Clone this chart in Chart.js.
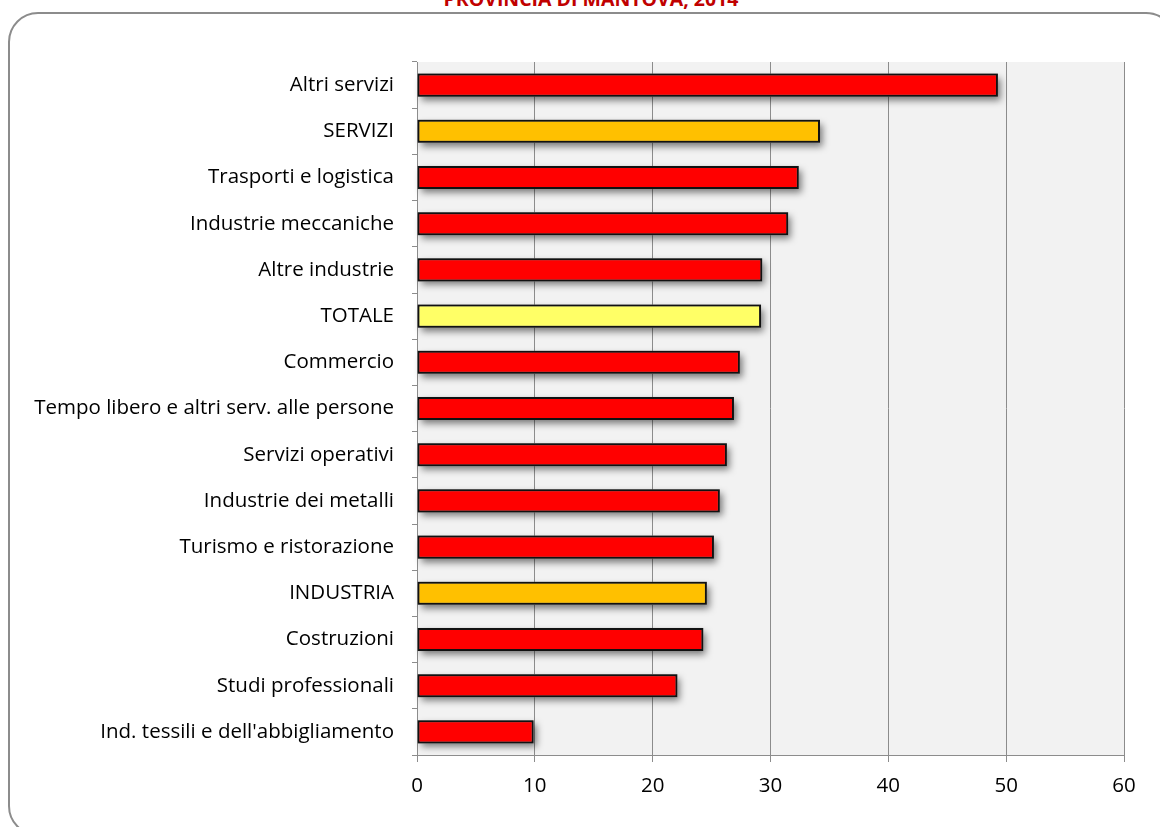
<!DOCTYPE html>
<html>
<head>
<meta charset="utf-8">
<script src="https://cdn.jsdelivr.net/npm/chart.js@4.4.1/dist/chart.umd.min.js"></script>
<style>
    html, body { margin: 0; padding: 0; background: #fff; overflow: hidden; }
    .wrap { position: relative; width: 1160px; height: 827px; overflow: hidden; }
    .frame { position: absolute; left: 8px; top: 12px; width: 1168px; height: 824px;
        border: 2px solid #8c8c8c; border-radius: 30px; box-sizing: border-box; }
    .title { position: absolute; left: 0; width: 1182px; top: -15px; text-align: center;
        line-height: 22px; font: bold 19.5px "Open Sans", "Liberation Sans", sans-serif; color: #c00000; }
    canvas { position: absolute; left: 0; top: 0; }
</style>
</head>
<body>
<div class="wrap">
    <div class="frame"></div>
    <div class="title">PROVINCIA DI MANTOVA, 2014</div>
    <canvas id="chart" width="1160" height="827"></canvas>
</div>
<script>
var categories = [
    'Altri servizi',
    'SERVIZI',
    'Trasporti e logistica',
    'Industrie meccaniche',
    'Altre industrie',
    'TOTALE',
    'Commercio',
    'Tempo libero e altri serv. alle persone',
    'Servizi operativi',
    'Industrie dei metalli',
    'Turismo e ristorazione',
    'INDUSTRIA',
    'Costruzioni',
    'Studi professionali',
    "Ind. tessili e dell'abbigliamento"
];
var values = [49.3, 34.2, 32.4, 31.5, 29.3, 29.2, 27.4, 26.9, 26.3, 25.7, 25.2, 24.6, 24.3, 22.1, 9.9];
var groups = ['sector', 'macro', 'sector', 'sector', 'sector', 'total', 'sector', 'sector',
    'sector', 'sector', 'sector', 'macro', 'sector', 'sector', 'sector'];
var xTicks = [0, 10, 20, 30, 40, 50, 60];

var groupColors = { sector: '#ff0000', macro: '#ffc000', total: '#ffff66' };

var plotBg = {
    id: 'plotBg',
    beforeDraw: function(chart) {
        var a = chart.chartArea, c = chart.ctx;
        c.save();
        c.fillStyle = '#f2f2f2';
        c.fillRect(a.left, a.top, a.right - a.left, a.bottom - a.top);
        c.restore();
    }
};
/* bar element clips itself, so the drop shadow is painted underneath first */
var barShadow = {
    id: 'barShadow',
    beforeDatasetsDraw: function(chart) {
        var c = chart.ctx;
        var meta = chart.getDatasetMeta(0);
        c.save();
        c.shadowColor = 'rgba(0,0,0,0.5)';
        c.shadowBlur = 7;
        c.shadowOffsetX = 3;
        c.shadowOffsetY = 4;
        c.fillStyle = '#888';
        meta.data.forEach(function(bar) {
            var p = bar.getProps(['x', 'y', 'base', 'height'], true);
            c.fillRect(Math.min(p.base, p.x), p.y - p.height / 2, Math.abs(p.x - p.base), p.height);
        });
        c.restore();
    }
};

var font = { family: '"Open Sans", "Liberation Sans", sans-serif', size: 20.5 };

new Chart(document.getElementById('chart').getContext('2d'), {
    type: 'bar',
    data: {
        labels: categories,
        datasets: [{
            data: values,
            backgroundColor: groups.map(function(g) { return groupColors[g]; }),
            borderColor: '#111',
            borderWidth: 2,
            borderSkipped: false,
            barPercentage: 0.5,
            categoryPercentage: 1
        }]
    },
    options: {
        indexAxis: 'y',
        responsive: false,
        animation: false,
        layout: { padding: { top: 62, right: 36, left: 0, bottom: 0 } },
        plugins: { legend: { display: false }, tooltip: { enabled: false } },
        scales: {
            x: {
                min: 0,
                max: 60,
                afterBuildTicks: function(s) { s.ticks = xTicks.map(function(v) { return { value: v }; }); },
                afterFit: function(s) { s.height = 72; },
                ticks: { color: '#000', font: font, padding: 12 },
                grid: { color: '#8c8c8c', lineWidth: 1, tickLength: 7 },
                border: { color: '#8c8c8c', width: 1 }
            },
            y: {
                afterFit: function(s) { s.width = 417; },
                ticks: { color: '#000', font: font, padding: 18 },
                grid: { drawOnChartArea: false, color: '#8c8c8c', tickLength: 5, offset: true },
                border: { color: '#8c8c8c', width: 1 }
            }
        }
    },
    plugins: [plotBg, barShadow]
});
</script>
</body>
</html>
